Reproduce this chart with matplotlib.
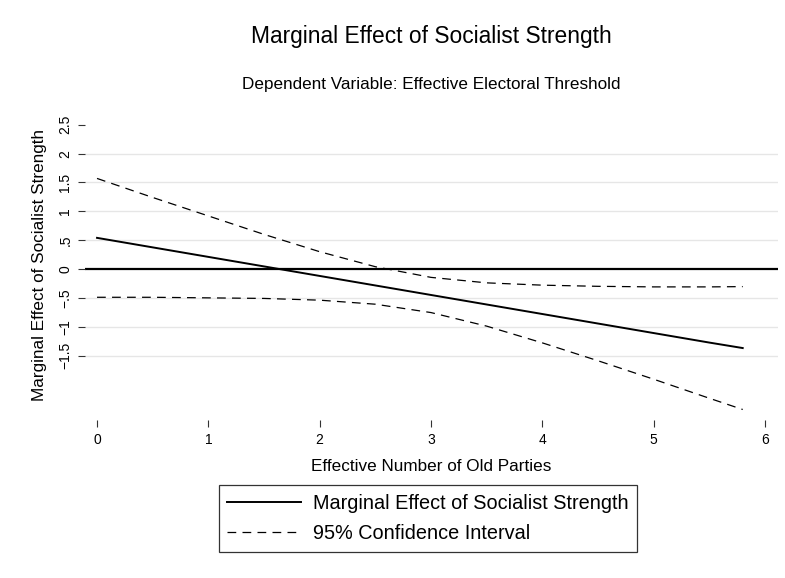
import numpy as np
import matplotlib.pyplot as plt

plt.rcParams['font.family'] = ['Liberation Sans', 'DejaVu Sans']

# values
old_parties = [0, 0.5, 1, 1.5, 2, 2.5, 3, 3.5, 4, 4.5, 5, 5.5, 5.8]
marginal_effect = [0.54, 0.375, 0.21, 0.045, -0.12, -0.285, -0.45, -0.615,
                   -0.78, -0.945, -1.11, -1.275, -1.37]
ci_upper = [1.57, 1.24, 0.92, 0.60, 0.30, 0.04, -0.145, -0.24,
            -0.28, -0.30, -0.31, -0.31, -0.305]
ci_lower = [-0.49, -0.49, -0.50, -0.51, -0.54, -0.61, -0.755, -0.99,
            -1.28, -1.59, -1.91, -2.24, -2.435]

y_ticks = [-1.5, -1, -0.5, 0, 0.5, 1, 1.5, 2, 2.5]
y_tick_labels = ["\u22121.5", "\u22121", "\u2212.5", "0", ".5", "1", "1.5", "2", "2.5"]
x_ticks = [0, 1, 2, 3, 4, 5, 6]

W, H = 785, 578
fig = plt.figure(figsize=(W / 100, H / 100), dpi=100)
ax = fig.add_axes([85 / W, 1 - 420 / H, 693 / W, 310 / H])

# grid lines (none at the top tick), and the zero reference line
for yv in y_ticks:
    if yv in (0, 2.5):
        continue
    ax.axhline(yv, color="#e6e6e6", lw=1.0, zorder=0)
ax.axhline(0, color="black", lw=1.6, zorder=1)

ax.plot(old_parties, marginal_effect, color="black", lw=1.4,
        label="Marginal Effect of Socialist Strength", zorder=3)
ax.plot(old_parties, ci_upper, color="black", lw=0.9, ls=(0, (7, 5)),
        label="95% Confidence Interval", zorder=3)
ax.plot(old_parties, ci_lower, color="black", lw=0.9, ls=(0, (7, 5)), zorder=3)

ax.set_xlim(-0.108, 6.117)
ax.set_ylim(-2.617, 2.756)
for s in ax.spines.values():
    s.set_visible(False)

ax.set_yticks(y_ticks)
ax.set_yticklabels(y_tick_labels, rotation=90, va="center", fontsize=10)
ax.set_xticks(x_ticks)
ax.set_xticklabels([str(v) for v in x_ticks], fontsize=10)
ax.tick_params(axis="both", direction="out", length=5, width=0.8, color="#333333")
ax.tick_params(axis="y", pad=4)
ax.tick_params(axis="x", pad=4)

ax.set_xlabel("Effective Number of Old Parties", fontsize=12.3, labelpad=9)
ax.set_ylabel("Marginal Effect of Socialist Strength", fontsize=12.3, labelpad=8)

fig.text(431 / W, 1 - 37 / H, "Marginal Effect of Socialist Strength",
         ha="center", va="center", fontsize=16.4)
fig.text(431 / W, 1 - 84 / H, "Dependent Variable: Effective Electoral Threshold",
         ha="center", va="center", fontsize=12.3)

leg = ax.legend(loc="upper center", bbox_to_anchor=(428 / W, 1 - 485 / H),
                bbox_transform=fig.transFigure, fontsize=14.3, frameon=True,
                fancybox=False, edgecolor="black", handlelength=3.7,
                borderpad=0.45, labelspacing=0.55, handletextpad=0.6,
                borderaxespad=0)
leg.get_frame().set_linewidth(0.9)

fig.savefig("out.png", dpi=100, facecolor="white")
